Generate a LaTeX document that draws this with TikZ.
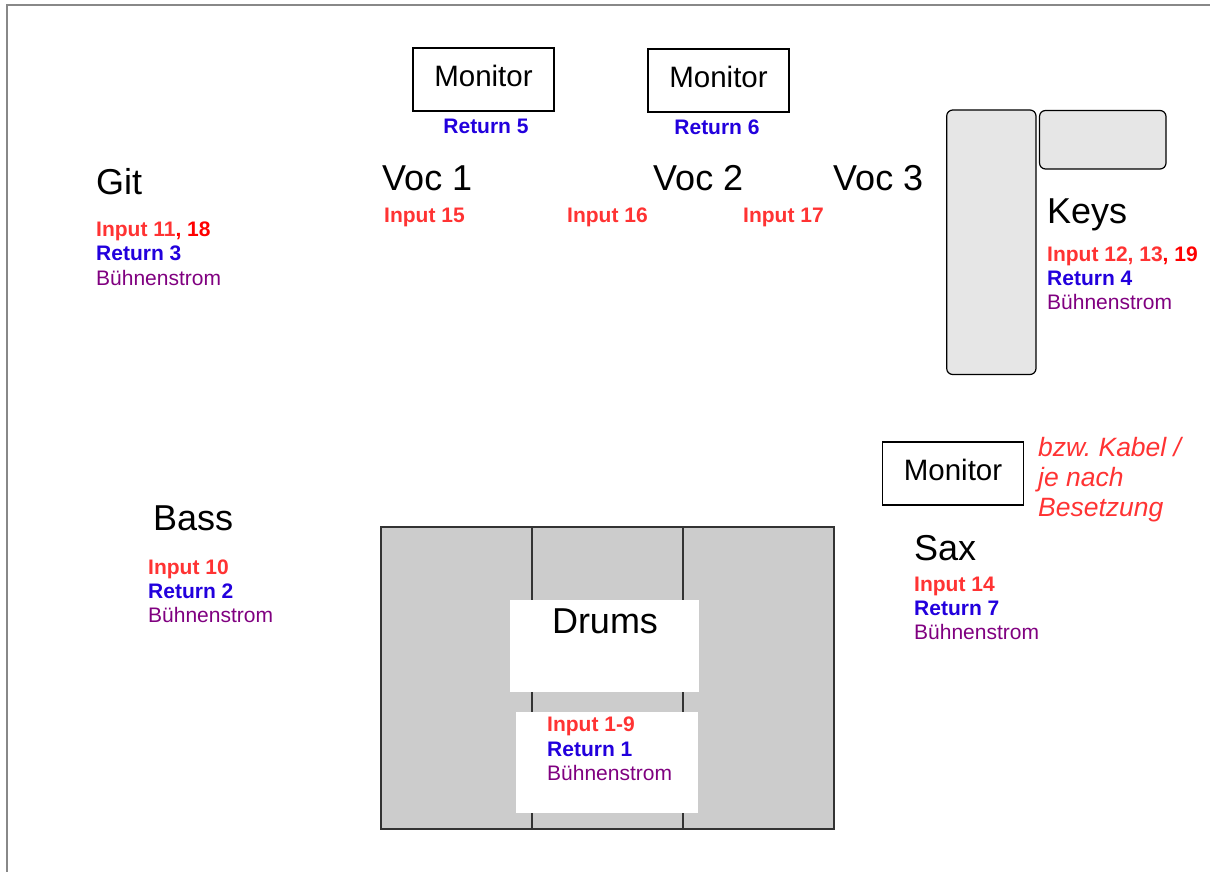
\documentclass[tikz,border=0pt]{standalone}
\usepackage{fontspec}
\setmainfont{Liberation Sans}
\definecolor{inred}{HTML}{FF3333}
\definecolor{purered}{HTML}{FF0000}
\definecolor{retblue}{HTML}{2200DD}
\definecolor{strom}{HTML}{800080}
\definecolor{keysgray}{HTML}{E6E6E6}
\definecolor{drumgray}{HTML}{CCCCCC}
\definecolor{framegray}{HTML}{888888}
\tikzset{
  big/.style={anchor=base west, inner sep=0pt, font=\fontsize{36}{43}\selectfont},
  mon/.style={draw=black, line width=1.2pt, minimum width=141pt, minimum height=63pt, inner sep=0pt, text height=21pt, text depth=6.6pt, font=\fontsize{29.5}{35}\selectfont},
  lbl/.style={anchor=base west, inner sep=0pt, font=\fontsize{21}{25}\selectfont},
  inp/.style={lbl, text=inred, font=\fontsize{21}{25}\selectfont\bfseries},
  ret/.style={lbl, text=retblue, font=\fontsize{21}{25}\selectfont\bfseries},
  pwr/.style={lbl, text=strom},
  note/.style={lbl, text=inred, font=\fontsize{26.5}{30}\selectfont\itshape},
  keysbox/.style={draw=black, line width=1.2pt, fill=keysgray, rounded corners=6pt},
  drumbox/.style={draw=black!80, line width=1.2pt, fill=drumgray},
}
\begin{document}
\begin{tikzpicture}[x=1pt,y=-1pt]
\useasboundingbox (0,0) rectangle (1210,872);
\clip (0,0) rectangle (1210,872);
% frame
\draw[framegray, line width=2pt] (7,900) -- (7,5) -- (1230,5);

% monitors top
\node[mon] (mon1) at (483.5,79.5) {Monitor};
\node[ret, anchor=base] (ret5) at (486,134) {Return 5};
\node[mon] (mon2) at (718.5,80.5) {Monitor};
\node[ret, anchor=base] (ret6) at (717,134.7) {Return 6};

% vocals
\node[big] (voc1) at (382,190) {Voc 1};
\node[big] (voc2) at (653,190) {Voc 2};
\node[big] (voc3) at (833,190) {Voc 3};
\node[inp] (in15) at (384,222) {Input 15};
\node[inp] (in16) at (567,222) {Input 16};
\node[inp] (in17) at (743,222) {Input 17};

% Git
\node[big] (git) at (96,194) {Git};
\node[inp] (gitin) at (96,236) {Input 11\textcolor{purered}{, 18}};
\node[ret] (gitret) at (96,260.5) {Return 3};
\node[pwr] (gitpwr) at (96,285) {Bühnenstrom};

% Keys
\draw[keysbox] (946.7,110) rectangle (1036,374.5);
\draw[keysbox] (1039.5,110.5) rectangle (1166,169);
\node[big] (keys) at (1047,223) {Keys};
\node[inp] (keysin) at (1047,261) {Input 12, 13\textcolor{purered}{, 19}};
\node[ret] (keysret) at (1047,285.3) {Return 4};
\node[pwr] (keyspwr) at (1047,309.7) {Bühnenstrom};

% Sax
\node[mon] (mon3) at (953,473.5) {Monitor};
\node[note] (bzw1) at (1038,456) {bzw.\ Kabel /};
\node[note] (bzw2) at (1038,486.3) {je nach};
\node[note] (bzw3) at (1038,516.6) {Besetzung};
\node[big] (sax) at (914,560) {Sax};
\node[inp] (saxin) at (914,591) {Input 14};
\node[ret] (saxret) at (914,615) {Return 7};
\node[pwr] (saxpwr) at (914,639.3) {Bühnenstrom};

% Bass
\node[big] (bass) at (153,530) {Bass};
\node[inp] (bassin) at (148,574.3) {Input 10};
\node[ret] (bassret) at (148,598.5) {Return 2};
\node[pwr] (basspwr) at (148,622.8) {Bühnenstrom};

% Drums
\draw[drumbox] (381,527) rectangle (834,829);
\draw[black!80, line width=1.2pt] (532,527) -- (532,829);
\draw[black!80, line width=1.2pt] (683,527) -- (683,829);
\fill[white] (510,600) rectangle (699,692);
\fill[white] (516,712) rectangle (698,813);
\node[big, anchor=base] (drums) at (605,633) {Drums};
\node[inp] (drumin) at (547,731.7) {Input 1-9};
\node[ret] (drumret) at (547,756) {Return 1};
\node[pwr] (drumpwr) at (547,780.7) {Bühnenstrom};
\end{tikzpicture}
\end{document}
